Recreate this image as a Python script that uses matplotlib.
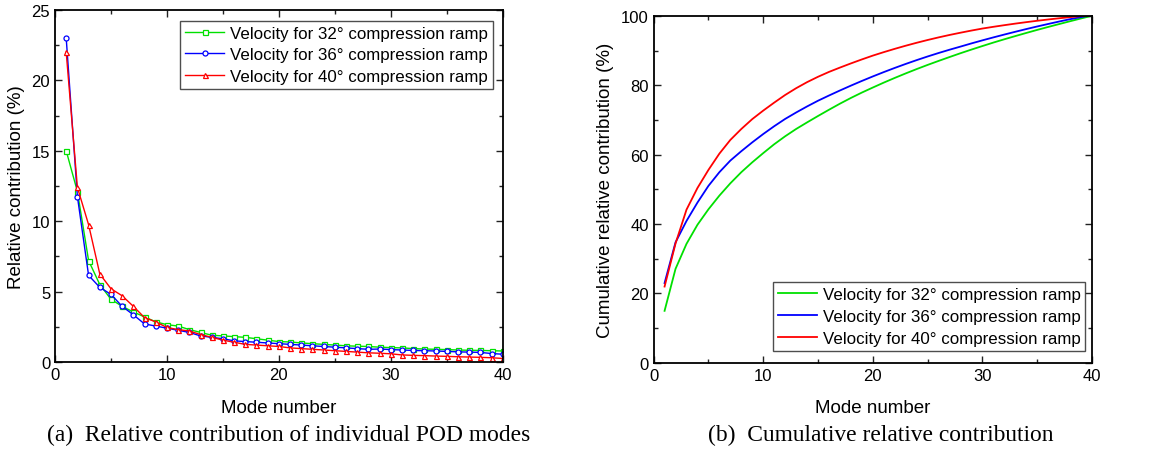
import numpy as np
import matplotlib
matplotlib.use("Agg")
import matplotlib.pyplot as plt
from matplotlib.ticker import MultipleLocator

plt.rcParams["font.family"] = ["Liberation Sans", "DejaVu Sans"]

# relative contribution (%) of each POD mode
modes = np.arange(1, 41)
rel_32 = [15.0, 12.1, 7.2, 5.5, 4.45, 3.95, 3.55, 3.2, 2.85, 2.65,
          2.55, 2.3, 2.1, 1.9, 1.85, 1.8, 1.75, 1.65, 1.55, 1.45,
          1.42, 1.35, 1.3, 1.25, 1.2, 1.15, 1.12, 1.1, 1.05, 1.02,
          1.0, 0.95, 0.92, 0.9, 0.88, 0.85, 0.83, 0.82, 0.8, 0.78]
rel_36 = [23.0, 11.75, 6.15, 5.3, 4.8, 3.95, 3.35, 2.7, 2.55, 2.4,
          2.25, 2.1, 1.85, 1.75, 1.65, 1.5, 1.45, 1.4, 1.35, 1.3,
          1.25, 1.2, 1.15, 1.1, 1.05, 1.0, 0.95, 0.9, 0.92, 0.88,
          0.85, 0.82, 0.8, 0.78, 0.75, 0.72, 0.7, 0.68, 0.6, 0.55]
rel_40 = [22.0, 12.4, 9.75, 6.25, 5.2, 4.7, 3.95, 3.15, 2.85, 2.45,
          2.3, 2.2, 1.95, 1.75, 1.55, 1.4, 1.25, 1.2, 1.15, 1.1,
          1.0, 0.95, 0.9, 0.85, 0.8, 0.75, 0.7, 0.65, 0.62, 0.58,
          0.5, 0.47, 0.45, 0.42, 0.4, 0.37, 0.35, 0.33, 0.3, 0.25]

labels = ["Velocity for 32° compression ramp",
          "Velocity for 36° compression ramp",
          "Velocity for 40° compression ramp"]
colors = ["#00e000", "#0000ff", "#ff0000"]
markers = ["s", "o", "^"]
series = [rel_32, rel_36, rel_40]


def style(ax, ymax, ymaj, ymin):
    ax.set_xlim(0, 40)
    ax.set_ylim(0, ymax)
    ax.xaxis.set_major_locator(MultipleLocator(10))
    ax.xaxis.set_minor_locator(MultipleLocator(5))
    ax.yaxis.set_major_locator(MultipleLocator(ymaj))
    ax.yaxis.set_minor_locator(MultipleLocator(ymin))
    ax.tick_params(which="both", direction="in", top=True, right=True,
                   labelsize=12, width=1, color="#222222")
    ax.tick_params(which="major", length=5)
    ax.tick_params(which="minor", length=3)
    for s in ax.spines.values():
        s.set_linewidth(1.3)
    ax.set_xlabel("Mode number", fontsize=13.5, labelpad=12)


fig = plt.figure(figsize=(11.63, 4.56), dpi=100)
ax1 = fig.add_axes([0.0473, 0.204, 0.385, 0.772])
ax2 = fig.add_axes([0.562, 0.202, 0.377, 0.761])

for vals, c, m, lab in zip(series, colors, markers, labels):
    ax1.plot(modes, vals, color=c, marker=m, markersize=3.6, markerfacecolor="white",
             markeredgecolor=c, markeredgewidth=0.9, lw=1.0, label=lab)
style(ax1, 25, 5, 2.5)
ax1.set_ylabel("Relative contribution (%)", fontsize=13.5, labelpad=5)
leg1 = ax1.legend(loc="upper right", fontsize=12.2, frameon=True, fancybox=False,
                  edgecolor="#222222", handlelength=2.3, borderpad=0.3,
                  labelspacing=0.4, handletextpad=0.35, borderaxespad=0,
                  bbox_to_anchor=(0.978, 0.97))
leg1.get_frame().set_linewidth(1.0)

for vals, c, lab in zip(series, colors, labels):
    ax2.plot(modes, np.cumsum(vals), color=c, lw=1.3, label=lab)
style(ax2, 100, 20, 10)
ax2.set_ylabel("Cumulative relative contribution (%)", fontsize=13.5, labelpad=5)
leg2 = ax2.legend(loc="lower right", fontsize=12.2, frameon=True, fancybox=False,
                  edgecolor="#222222", handlelength=2.3, borderpad=0.3,
                  labelspacing=0.4, handletextpad=0.35, borderaxespad=0,
                  bbox_to_anchor=(0.985, 0.035))
leg2.get_frame().set_linewidth(1.0)

cap = dict(fontsize=16.9, family=["Liberation Serif", "DejaVu Serif"], va="center")
fig.text(0.0404, 0.045, "(a)  Relative contribution of individual POD modes", ha="left", **cap)
fig.text(0.6088, 0.045, "(b)  Cumulative relative contribution", ha="left", **cap)

fig.savefig("out.png", dpi=100, facecolor="white")
